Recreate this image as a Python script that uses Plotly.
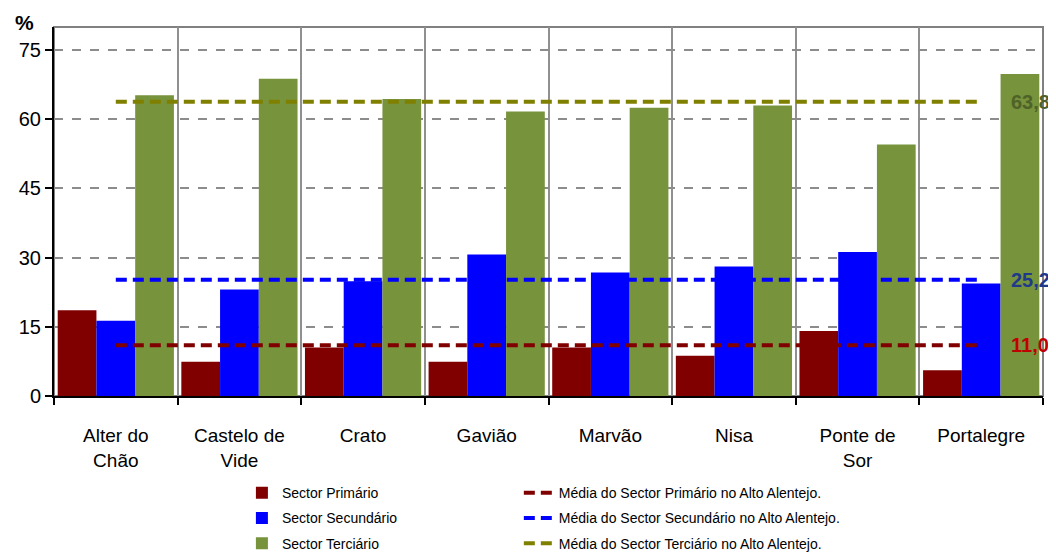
import plotly.graph_objects as go

# ── Data ─────────────────────────────────────────────
municipios = ["Alter do<br>Chão", "Castelo de<br>Vide", "Crato", "Gavião",
              "Marvão", "Nisa", "Ponte de<br>Sor", "Portalegre"]
primario = [18.6, 7.4, 10.5, 7.4, 10.5, 8.7, 14.1, 5.6]
secundario = [16.3, 23.1, 24.9, 30.7, 26.8, 28.1, 31.2, 24.4]
terciario = [65.2, 68.8, 64.4, 61.7, 62.5, 63.0, 54.5, 69.8]

media_primario = 11.0
media_secundario = 25.2
media_terciario = 63.8
media_labels = ["11,0", "25,2", "63,8"]

y_ticks = [0, 15, 30, 45, 60, 75]

FONT = "Arial, Liberation Sans, sans-serif"

fig = go.Figure()

bar_series = [
    ("Sector Primário", primario, "#800000"),
    ("Sector Secundário", secundario, "#0000FF"),
    ("Sector Terciário", terciario, "#77933C"),
]
for name, vals, color in bar_series:
    fig.add_trace(go.Bar(
        x=municipios, y=vals, name=name,
        marker=dict(color=color, line=dict(width=0)),
        legend="legend", legendgroup=name,
    ))

mean_series = [
    ("Média do Sector Primário no Alto Alentejo.", media_primario, "#800000"),
    ("Média do Sector Secundário no Alto Alentejo.", media_secundario, "#0000FF"),
    ("Média do Sector Terciário no Alto Alentejo.", media_terciario, "#808000"),
]
for name, val, color in mean_series:
    fig.add_trace(go.Scatter(
        x=municipios, y=[val] * len(municipios), name=name,
        mode="lines",
        line=dict(color=color, width=4, dash="11px,6px"),
        legend="legend2", legendgroup=name,
    ))

# value labels at the right end of the mean lines
label_colors = ["#C00000", "#1F3A8A", "#4F6228"]
for val, txt, col in zip([media_primario, media_secundario, media_terciario],
                         media_labels, label_colors):
    fig.add_annotation(
        x=0.966, xref="paper", y=val, yref="y",
        text=f"<b>{txt}</b>", showarrow=False,
        xanchor="left", yanchor="middle",
        font=dict(family=FONT, size=20, color=col),
    )

fig.add_annotation(
    x=-0.030, xref="paper", y=1.0, yref="paper", yshift=5,
    text="<b>%</b>", showarrow=False, xanchor="center", yanchor="middle",
    font=dict(family=FONT, size=21, color="black"),
)

# gray frame (top / right)
fig.add_shape(type="rect", xref="paper", yref="paper", x0=0, x1=1, y0=0, y1=1,
              line=dict(color="#808080", width=2), layer="below")

legend_style = dict(
    y=-0.22, xanchor="left", yanchor="top",
    orientation="v", bgcolor="rgba(0,0,0,0)",
    font=dict(family=FONT, size=14, color="black"),
    tracegroupgap=4,
)

# page body has an 8px margin, so the figure is a bit smaller than the window
fig.update_layout(
    width=1048, height=546,
    margin=dict(l=46, r=13, t=19, b=158, autoexpand=False),
    plot_bgcolor="white", paper_bgcolor="white",
    barmode="group", bargap=0.06, bargroupgap=0,
    font=dict(family=FONT, color="black"),
    xaxis=dict(
        tickson="boundaries", showgrid=True, gridcolor="#909090", gridwidth=1.5,
        showline=True, linecolor="black", linewidth=2,
        ticks="outside", ticklen=7, tickwidth=2, tickcolor="black",
        tickfont=dict(family=FONT, size=19, color="black"),
        ticklabelstandoff=21, automargin=False,
    ),
    yaxis=dict(
        range=[0, 80], tickvals=y_ticks,
        showgrid=True, gridcolor="#8C8C8C", gridwidth=1.5, griddash="dash",
        showline=True, linecolor="black", linewidth=2,
        ticks="outside", ticklen=7, tickwidth=2, tickcolor="black",
        tickfont=dict(family=FONT, size=20, color="black"),
        zeroline=False, automargin=False,
    ),
    legend=dict(x=0.19, **legend_style),
    legend2=dict(x=0.47, **legend_style),
)

fig.write_html("out.html")
